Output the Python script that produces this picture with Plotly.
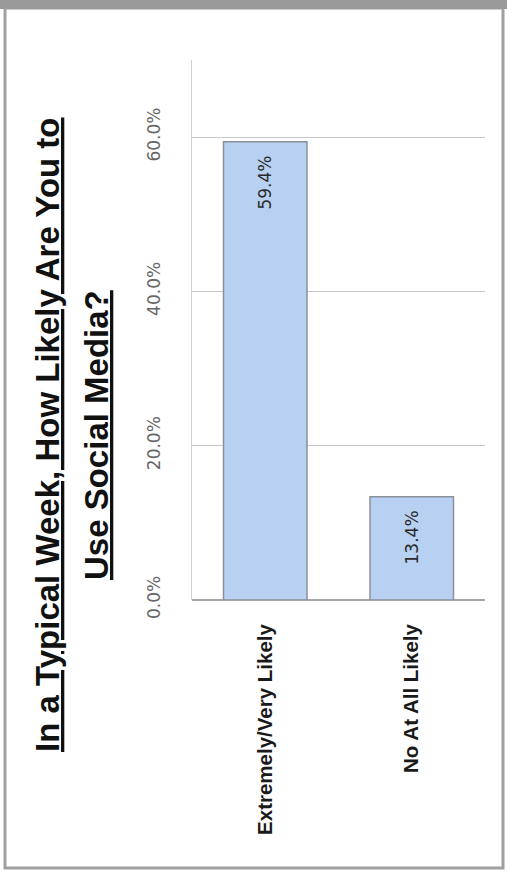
import plotly.graph_objects as go

categories = ["Extremely/Very Likely", "No At All Likely"]
values = [59.4, 13.4]
tick_vals = [0, 20, 40, 60]
tick_text = ["0.0%", "20.0%", "40.0%", "60.0%"]
title_lines = ["In a Typical Week, How Likely Are You to", "Use Social Media?"]

L, R, T, B = 192, 22, 60, 274
W, H = 507, 874
PW, PH = W - L - R, H - T - B


def px(x):
    return (x - L) / PW


def py(y):
    return (H - B - y) / PH


fig = go.Figure()
fig.add_trace(go.Bar(
    x=categories, y=values,
    width=0.57,
    marker=dict(color="#b8d1f2", line=dict(color="#8a8f99", width=1.5)),
    text=[f"{v:.1f}%\u00a0\u00a0" for v in values],
    textposition="inside", insidetextanchor="end", textangle=-90,
    textfont=dict(family="DejaVu Sans", size=17, color="#2a2a2a"),
    hoverinfo="skip",
))

annotations = []
for i, (line, xc) in enumerate(zip(title_lines, [47, 96])):
    annotations.append(dict(
        text=f"<b><u>{line}</u></b>", xref="paper", yref="paper",
        x=px(xc), y=py(435),
        xanchor="center", yanchor="middle", textangle=-90, showarrow=False,
        font=dict(family="Liberation Sans", size=33, color="#111111"),
    ))

fig.update_layout(
    width=W, height=H,
    margin=dict(l=L, r=R, t=T, b=B),
    paper_bgcolor="white", plot_bgcolor="white",
    showlegend=False,
    xaxis=dict(
        tickangle=-90, ticklabelstandoff=19,
        tickfont=dict(family="Liberation Sans", size=20.5, color="#1a1a1a", weight="bold"),
        showline=False, showgrid=False,
    ),
    yaxis=dict(
        range=[0, 70], tickvals=tick_vals, ticktext=tick_text,
        tickangle=-90, ticklabelstandoff=24,
        tickfont=dict(family="DejaVu Sans", size=17, color="#666666"),
        showgrid=True, gridcolor="#c8c8c8", gridwidth=1,
        zeroline=True, zerolinecolor="#a8a8a8", zerolinewidth=1.5,
        showline=True, linecolor="#d0d0d0", linewidth=1,
    ),
    annotations=annotations,
    shapes=[
        dict(type="rect", xref="paper", yref="paper",
             x0=px(5), x1=px(503), y0=py(868), y1=py(8),
             line=dict(color="#a0a0a0", width=3), layer="below"),
        dict(type="rect", xref="paper", yref="paper",
             x0=px(0), x1=px(507), y0=py(9), y1=py(0),
             line=dict(width=0), fillcolor="#9a9a9a", layer="below"),
    ],
)

fig.write_html("out.html")
